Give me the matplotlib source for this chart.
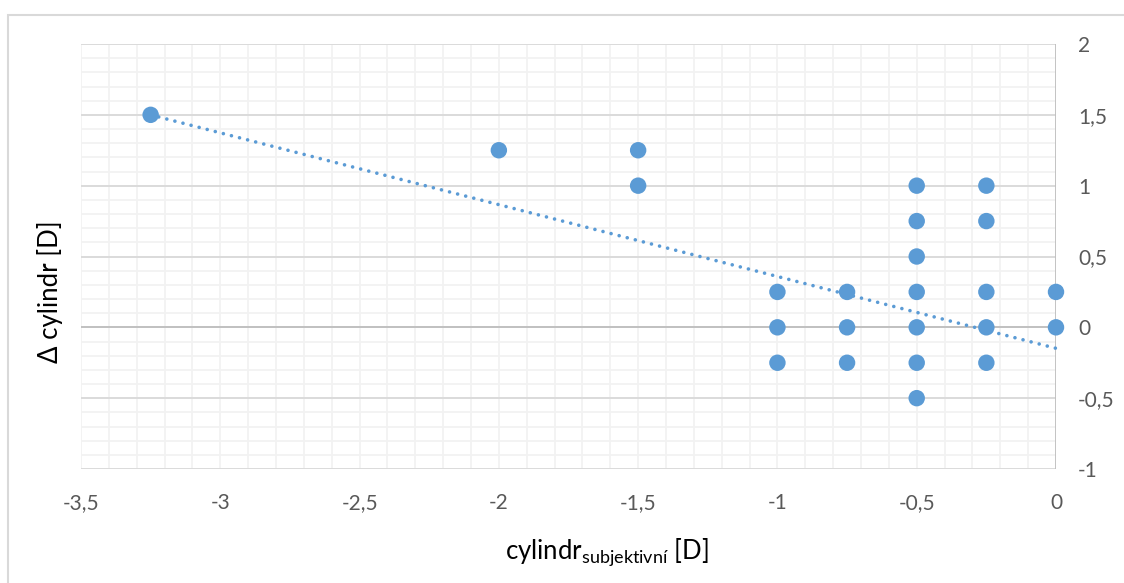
import matplotlib
matplotlib.use("Agg")
import matplotlib.pyplot as plt
import numpy as np
from matplotlib.patches import Rectangle

# ---- data ----
cyl_subj = [-3.25, -2.0, -1.5, -1.5,
            -1.0, -1.0, -1.0,
            -0.75, -0.75, -0.75,
            -0.5, -0.5, -0.5, -0.5, -0.5, -0.5, -0.5,
            -0.25, -0.25, -0.25, -0.25, -0.25,
            0.0, 0.0]
delta_cyl = [1.5, 1.25, 1.25, 1.0,
             0.25, 0.0, -0.25,
             0.25, 0.0, -0.25,
             1.0, 0.75, 0.5, 0.25, 0.0, -0.25, -0.5,
             1.0, 0.75, 0.25, 0.0, -0.25,
             0.25, 0.0]
trend_slope = -0.507
trend_intercept = -0.148

x_ticks = [-3.5, -3, -2.5, -2, -1.5, -1, -0.5, 0]
y_ticks = [-1, -0.5, 0, 0.5, 1, 1.5, 2]

def fmt(v):
    return ("%g" % v).replace(".", ",")

plt.rcParams['font.family'] = ['Lato', 'DejaVu Sans']
plt.rcParams['mathtext.fontset'] = 'custom'
plt.rcParams['mathtext.rm'] = 'Lato'
plt.rcParams['mathtext.it'] = 'Lato'

W, H = 1124, 583
fig = plt.figure(figsize=(W / 100, H / 100), dpi=100)
ax = fig.add_axes([81 / W, 1 - 469 / H, (1056 - 81) / W, (469 - 44) / H])
ax.set_xlim(-3.5, 0)
ax.set_ylim(-1, 2)

# grid
minor_c = '#F2F2F2'
major_c = '#D9D9D9'
for xv in np.arange(-3.5, 0.0001, 0.1):
    ax.axvline(xv, color=minor_c, lw=1.3, zorder=0)
for yv in np.arange(-1, 2.0001, 0.1):
    ax.axhline(yv, color=minor_c, lw=1.3, zorder=0)
for yv in y_ticks:
    ax.axhline(yv, color=major_c, lw=1.3, zorder=0.5)
ax.axhline(0, color='#BFBFBF', lw=1.3, zorder=0.6)
ax.axvline(0, color='#BFBFBF', lw=1.3, zorder=0.6)

for s in ax.spines.values():
    s.set_visible(False)

ax.set_xticks(x_ticks)
ax.set_xticklabels([fmt(v) for v in x_ticks])
ax.set_yticks(y_ticks)
ax.set_yticklabels([fmt(v) for v in y_ticks])
ax.yaxis.tick_right()
ax.tick_params(axis='both', length=0, labelsize=15, colors='#595959')
ax.tick_params(axis='x', pad=17)
ax.tick_params(axis='y', pad=16)

# trendline
xt = np.linspace(min(cyl_subj), 0, 200)
ax.plot(xt, trend_slope * xt + trend_intercept, color='#5B9BD5', lw=2.6,
        linestyle=(0, (0.01, 2.3)), dash_capstyle='round', zorder=2, clip_on=False)

# points
ax.scatter(cyl_subj, delta_cyl, s=140, color='#5B9BD5', edgecolors='none', zorder=3, clip_on=False)

# labels
fig.text(607 / W, 1 - 552 / H, "cylindr$_{\\mathregular{subjektivní}}$ [D]",
         ha='center', va='center', fontsize=18.5, color='black')
fig.text(50 / W, 1 - 292 / H, "Δ cylindr [D]", rotation=90,
         ha='center', va='center', fontsize=18.5, color='black')

# chart border
fig.patches.append(Rectangle((8 / W, -0.1), 1.2, (1 - 15 / H) + 0.1, transform=fig.transFigure,
                             fill=False, edgecolor='#D9D9D9', lw=1.5, zorder=-1))

fig.savefig('out.png', dpi=100)
